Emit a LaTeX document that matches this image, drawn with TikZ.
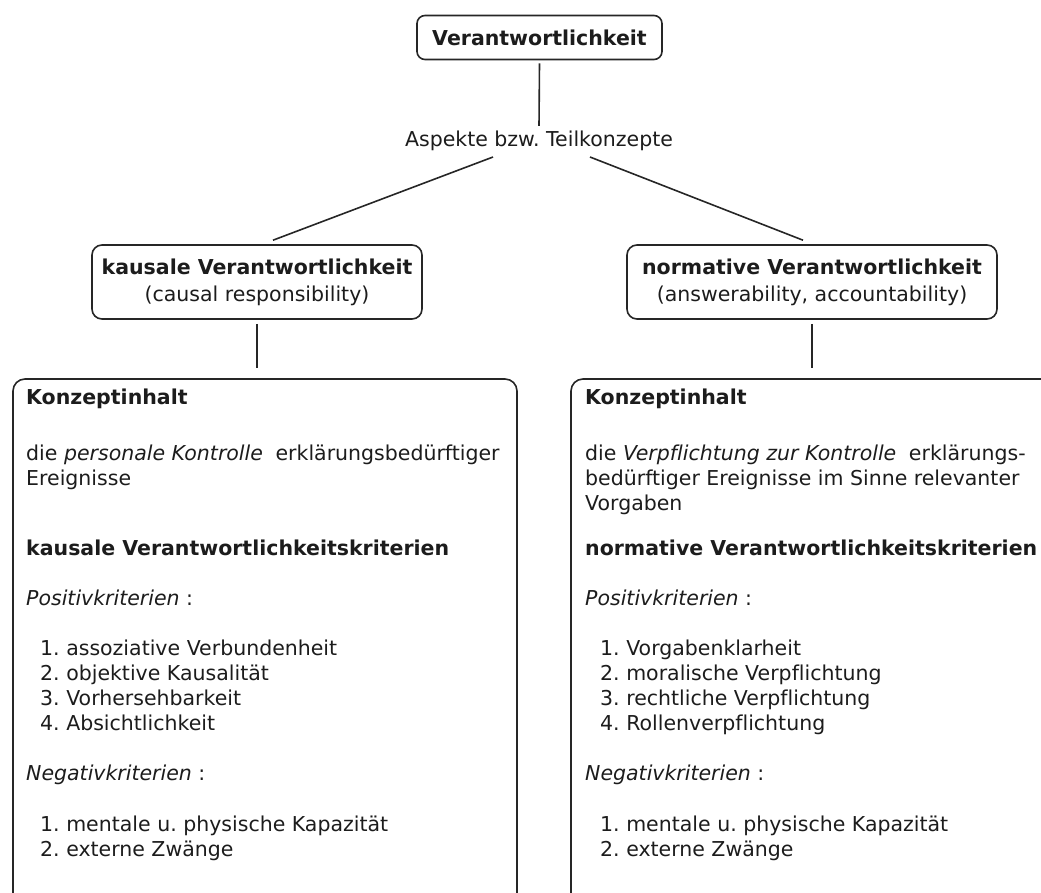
\documentclass[tikz,border=0pt]{standalone}
\usepackage{fontspec}
\setmainfont{DejaVu Sans}[Ligatures=NoCommon]
\usetikzlibrary{calc}
\frenchspacing
\definecolor{ink}{HTML}{1C1C1C}
\definecolor{rule}{HTML}{262626}
\tikzset{
  frame/.style={draw=rule, line width=1.6pt, rounded corners=#1, inner sep=0pt},
  frame/.default=9pt,
  link/.style={draw=rule, line width=1.6pt},
  txt/.style={anchor=base west, inner sep=0pt, text=ink,
              font=\fontsize{20.5}{25}\selectfont},
}
\begin{document}
\begin{tikzpicture}[x=1pt, y=-1pt]
\useasboundingbox (0,0) rectangle (1041,892);
\clip (0,0) rectangle (1041,892);

% root concept
\node[frame=8pt, minimum width=245pt, minimum height=44pt, text=ink,
      font=\fontsize{20.5}{25}\selectfont\bfseries]
  (root) at (539.5,37.5) {Verantwortlichkeit};

% label of the split
\node[inner sep=0pt, text=ink, font=\fontsize{20.5}{25}\selectfont]
  (aspekte) at (539,141) {Aspekte bzw. Teilkonzepte};

% the two sub-concepts
\node[frame=10pt, minimum width=330pt, minimum height=74pt, align=center,
      text=ink, font=\fontsize{20.5}{25}\selectfont]
  (kausal) at (257,282) {\bfseries kausale Verantwortlichkeit\\[2pt](causal responsibility)};
\node[frame=10pt, minimum width=370pt, minimum height=74pt, align=center,
      text=ink, font=\fontsize{20.5}{25}\selectfont]
  (normativ) at (812,282) {\bfseries normative Verantwortlichkeit\\[2pt](answerability, accountability)};

% content panels (run past the lower and right edges)
\node[frame=12pt, minimum width=504pt, minimum height=526pt] (lbox) at (265,642) {};
\node[frame=12pt, minimum width=490pt, minimum height=526pt] (rbox) at (816,642) {};

% connectors
\coordinate (asL) at (493,157);
\coordinate (asR) at (590,157);
\draw[link] ($(root.south)+(0,3)$) -- ($(aspekte.north)+(0,-5)$);
\draw[link] (asL) -- ($(kausal.north)+(16,-4)$);
\draw[link] (asR) -- ($(normativ.north)+(-9,-4)$);
\draw[link] ($(kausal.south)+(0,4)$) -- ($(kausal.south |- lbox.north)+(0,-10)$);
\draw[link] ($(normativ.south)+(0,4)$) -- ($(normativ.south |- rbox.north)+(0,-10)$);

% left panel text
\node[txt] (l1) at (26,404) {\bfseries Konzeptinhalt};
\node[txt] (l2) at (26,460) {die \textit{personale Kontrolle}\hspace{0.3em} erklärungsbedürftiger};
\node[txt] (l3) at (26,485) {Ereignisse};
\node[txt] (l4) at (26,555) {\bfseries kausale Verantwortlichkeitskriterien};
\node[txt] (l5) at (26,605) {\textit{Positivkriterien} :};
\node[txt] (l6) at (40,655) {1. assoziative Verbundenheit};
\node[txt] (l7) at (40,680) {2. objektive Kausalität};
\node[txt] (l8) at (40,705) {3. Vorhersehbarkeit};
\node[txt] (l9) at (40,730) {4. Absichtlichkeit};
\node[txt] (l10) at (26,780) {\textit{Negativkriterien} :};
\node[txt] (l11) at (40,831) {1. mentale u. physische Kapazität};
\node[txt] (l12) at (40,856) {2. externe Zwänge};

% right panel text
\node[txt] (r1) at (585,404) {\bfseries Konzeptinhalt};
\node[txt] (r2) at (585,460) {die \textit{Verpflichtung zur Kontrolle}\hspace{0.3em} erklärungs-};
\node[txt] (r3) at (585,485) {bedürftiger Ereignisse im Sinne relevanter};
\node[txt] (r4) at (585,510) {Vorgaben};
\node[txt] (r5) at (585,555) {\bfseries normative Verantwortlichkeitskriterien};
\node[txt] (r6) at (585,605) {\textit{Positivkriterien} :};
\node[txt] (r7) at (600,655) {1. Vorgabenklarheit};
\node[txt] (r8) at (600,680) {2. moralische Verpflichtung};
\node[txt] (r9) at (600,705) {3. rechtliche Verpflichtung};
\node[txt] (r10) at (600,730) {4. Rollenverpflichtung};
\node[txt] (r11) at (585,780) {\textit{Negativkriterien} :};
\node[txt] (r12) at (600,831) {1. mentale u. physische Kapazität};
\node[txt] (r13) at (600,856) {2. externe Zwänge};
\end{tikzpicture}
\end{document}
